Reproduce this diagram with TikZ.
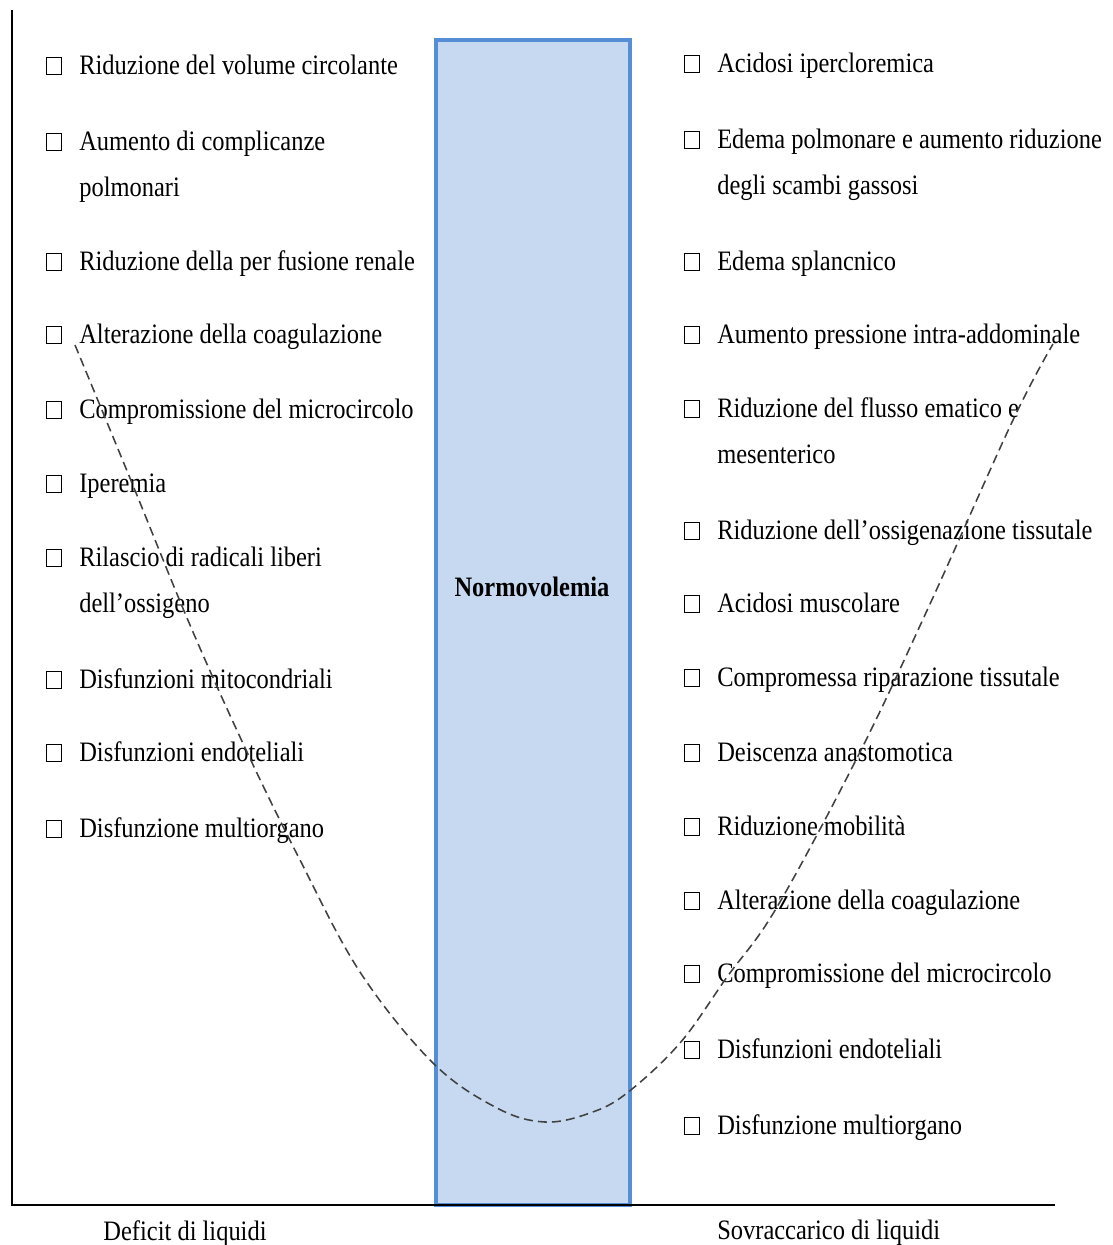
\documentclass[tikz,border=0pt]{standalone}
\usepackage{fontspec}
\setmainfont{Liberation Serif}[FakeStretch=0.87]
\usetikzlibrary{positioning}
\definecolor{nvfill}{HTML}{C6D9F1}
\definecolor{nvedge}{HTML}{558ED5}
\definecolor{curvegray}{HTML}{404040}
\newcommand{\chk}{\llap{{\setlength{\fboxsep}{0pt}\setlength{\fboxrule}{0.7pt}\fbox{\rule{0pt}{11.3pt}\hspace{10.5pt}}}\hspace{0.425cm}}}
\tikzset{
  axis/.style={line width=2pt, black},
  band/.style={draw=nvedge, fill=nvfill, line width=2.6pt},
  item/.style={anchor=base west, inner sep=0pt, align=left, font=\fontsize{20}{32.6}\selectfont},
  foot/.style={inner sep=0pt, font=\fontsize{20}{24}\selectfont},
  curve/.style={dash pattern=on 6.4pt off 3.6pt, line width=1.1pt, curvegray},
}

\begin{document}
\begin{tikzpicture}[x=0.025cm, y=-0.025cm]
  \useasboundingbox (0,0) rectangle (1113,1245);
  % normovolemia band
  \draw[band] (436,40) rectangle (630,1205);
  \node[inner sep=0pt, font=\bfseries\fontsize{20}{24}\selectfont] (normo) at (532,587) {Normovolemia};
  % axes
  \coordinate (top) at (12,10);
  \coordinate (origin) at (12,1205);
  \coordinate (xend) at (1055,1205);
  \draw[axis] (top) -- (origin) -- (xend);
  % deficit side (y = baseline of the last line)
  \foreach \y/\txt [count=\i] in {74/{Riduzione del volume circolante},
      196/{Aumento di complicanze\\polmonari},
      270/{Riduzione della per fusione renale},
      343/{Alterazione della coagulazione},
      418/{Compromissione del microcircolo},
      492/{Iperemia},
      612/{Rilascio di radicali liberi\\dell’ossigeno},
      688/{Disfunzioni mitocondriali},
      761/{Disfunzioni endoteliali},
      837/{Disfunzione multiorgano}}
    \node[item] (def\i) at (79,\y) {\chk\txt};
  % overload side
  \foreach \y/\txt [count=\i] in {72/{Acidosi ipercloremica},
      194/{Edema polmonare e aumento riduzione\\degli scambi gassosi},
      270/{Edema splancnico},
      343/{Aumento pressione intra-addominale},
      463/{Riduzione del flusso ematico e\\mesenterico},
      539/{Riduzione dell’ossigenazione tissutale},
      612/{Acidosi muscolare},
      686/{Compromessa riparazione tissutale},
      761/{Deiscenza anastomotica},
      835/{Riduzione mobilità},
      909/{Alterazione della coagulazione},
      982/{Compromissione del microcircolo},
      1058/{Disfunzioni endoteliali},
      1134/{Disfunzione multiorgano}}
    \node[item] (sov\i) at (717,\y) {\chk\txt};
  % U curve
  \draw[curve] plot[smooth, tension=0.6] coordinates {(75,345) (132,483) (190,625) (247,752)
    (300,860) (360,972) (433,1063) (497,1108) (545,1122) (590,1113) (627,1093) (680,1043)
    (727,977) (777,907) (860,752) (930,604) (1013,420) (1053,344)};
  % axis labels
  \node[foot, anchor=base] (deficit) at (185,1240) {Deficit di liquidi};
  \node[foot, anchor=base west] (sovra) at (717,1239) {Sovraccarico di liquidi};
\end{tikzpicture}
\end{document}
